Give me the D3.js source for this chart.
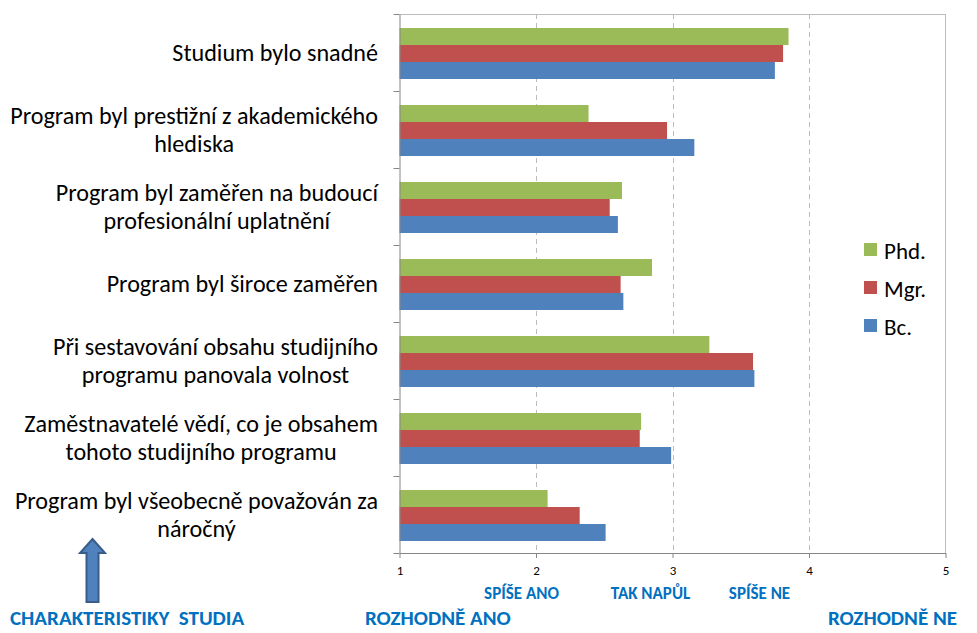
<!DOCTYPE html>
<html><head><meta charset="utf-8">
<script src="https://cdn.jsdelivr.net/npm/d3@7"></script>
<style>body{margin:0;background:#fff}svg{display:block}</style>
</head><body>
<svg id="c" width="977" height="633"></svg>
<script>
const categories = [
  ["Studium bylo snadné"],
  ["Program byl prestižní z akademického", "hlediska"],
  ["Program byl zaměřen na budoucí", "profesionální uplatnění"],
  ["Program byl široce zaměřen"],
  ["Při sestavování obsahu studijního", "programu panovala volnost"],
  ["Zaměstnavatelé vědí, co je obsahem", "tohoto studijního programu"],
  ["Program byl všeobecně považován za", "náročný"]
];
const seriesNames = ["Phd.", "Mgr.", "Bc."];
const phd = [3.85, 2.385, 2.63, 2.85, 3.27, 2.77, 2.085];
const mgr = [3.81, 2.96, 2.54, 2.62, 3.59, 2.76, 2.32];
const bc  = [3.75, 3.16, 2.60, 2.64, 3.60, 2.99, 2.51];
const colors = ["#9BBB59", "#C0504D", "#4F81BD"];
const xTicks = [1, 2, 3, 4, 5];
const scaleValues = [2, 3, 4];
const scaleTexts = ["SPÍŠE ANO", "TAK NAPŮL", "SPÍŠE NE"];

(function(){
const svg = d3.select("#c");
const pL = 399.5, pR = 945.5, pT = 14, pB = 553;
const font = "Carlito, Calibri, Lato, 'Liberation Sans', sans-serif";
const x = d3.scaleLinear().domain([1, 5]).range([pL, pR]);
const y = d3.scaleBand().domain(d3.range(categories.length)).range([pT, pB]);
const inner = d3.scaleBand().domain(d3.range(3)).range([1, y.bandwidth() + 1]).paddingInner(0).paddingOuter(0.765);

// grid
svg.append("g").selectAll("line").data([2, 3, 4]).join("line")
  .attr("x1", d => Math.round(x(d)) + 0.5).attr("x2", d => Math.round(x(d)) + 0.5)
  .attr("y1", pT).attr("y2", pB)
  .attr("stroke", "#bcbcbc").attr("stroke-dasharray", "5,4");
svg.append("line").attr("x1", pL).attr("x2", pR).attr("y1", pT + 0.5).attr("y2", pT + 0.5).attr("stroke", "#bcbcbc");
svg.append("line").attr("x1", pR).attr("x2", pR).attr("y1", pT).attr("y2", pB).attr("stroke", "#bcbcbc");

// bars
const data = [phd, mgr, bc];
data.forEach((vals, s) => {
  svg.append("g").selectAll("rect").data(vals).join("rect")
    .attr("x", pL)
    .attr("y", (d, i) => y(i) + inner(s))
    .attr("width", d => x(d) - pL)
    .attr("height", inner.bandwidth())
    .attr("fill", colors[s]);
});

// axes
const xAxis = d3.axisBottom(x).tickValues(xTicks).tickFormat(d3.format("d")).tickSizeInner(5).tickSizeOuter(0).tickPadding(8);
const gx = svg.append("g").attr("transform", `translate(0,${pB})`).call(xAxis);
gx.select(".domain").attr("stroke", "#868686");
gx.selectAll(".tick line").attr("stroke", "#868686");
gx.selectAll("text").attr("font-family", font).attr("font-size", 13).attr("fill", "#000");

const yAxisScale = d3.scaleLinear().domain([0, categories.length]).range([pT, pB]);
const gy = svg.append("g").attr("transform", `translate(${pL},0)`)
  .call(d3.axisLeft(yAxisScale).tickValues(d3.range(categories.length + 1)).tickFormat("").tickSizeInner(6).tickSizeOuter(0));
gy.select(".domain").attr("stroke", "#868686");
gy.selectAll(".tick line").attr("stroke", "#868686");

// category labels
const labelRight = 378;
const lg = svg.append("g").attr("font-family", font).attr("font-size", 20).attr("fill", "#000");
categories.forEach((lines, i) => {
  const cy = y(i) + y.bandwidth() / 2;
  const g = lg.append("g");
  const lh = 28;
  lines.forEach((t, k) => g.append("text").text(t)
    .attr("y", cy + (k - (lines.length - 1) / 2) * lh)
    .attr("dy", "0.35em").attr("text-anchor", "middle"));
});
let maxW = 0;
lg.selectAll("text").each(function(){ maxW = Math.max(maxW, this.getComputedTextLength()); });
lg.attr("font-size", 20 * 368 / maxW);
lg.selectAll("g").each(function(){
  const ts = d3.select(this).selectAll("text");
  let w = 0; ts.each(function(){ w = Math.max(w, this.getComputedTextLength()); });
  ts.attr("x", labelRight - w / 2);
});

// legend
const leg = svg.append("g").attr("font-family", font).attr("font-size", 23);
seriesNames.forEach((n, i) => {
  const ly = 249.5 + i * 38;
  leg.append("rect").attr("x", 864).attr("y", ly - 6.5).attr("width", 13).attr("height", 13).attr("fill", colors[i]);
  leg.append("text").attr("x", 884).attr("y", ly + 1).attr("dy", "0.35em").text(n);
});

// scale labels (blue)
const blue = "#0070C0";
const labelShift = [-14.5, -22, -49.5];
const bl = svg.append("g").attr("font-family", font).attr("font-weight", "bold").attr("fill", blue);
bl.selectAll("text.s").data(scaleValues).join("text").attr("class", "s")
  .attr("font-size", 17)
  .attr("x", (d, i) => x(d) + labelShift[i]).attr("y", 593).attr("dy", "0.35em").attr("text-anchor", "middle")
  .text((d, i) => scaleTexts[i]);
const b2 = bl.append("g").attr("font-size", 21);
b2.append("text").attr("x", 365).attr("y", 618).attr("dy", "0.35em").text("ROZHODNĚ ANO");
b2.append("text").attr("x", 957).attr("y", 618).attr("dy", "0.35em").attr("text-anchor", "end").text("ROZHODNĚ NE");
b2.append("text").attr("x", 10).attr("y", 618).attr("dy", "0.35em").attr("xml:space", "preserve").text("CHARAKTERISTIKY  STUDIA");

// arrow
const ax = 92.5;
svg.append("path")
  .attr("d", `M${ax},539 L${ax+12.5},553 L${ax+6},553 L${ax+6},602 L${ax-6},602 L${ax-6},553 L${ax-12.5},553 Z`)
  .attr("fill", "#4F81BD").attr("stroke", "#385D8A").attr("stroke-width", 2);
})();
</script>
</body></html>
